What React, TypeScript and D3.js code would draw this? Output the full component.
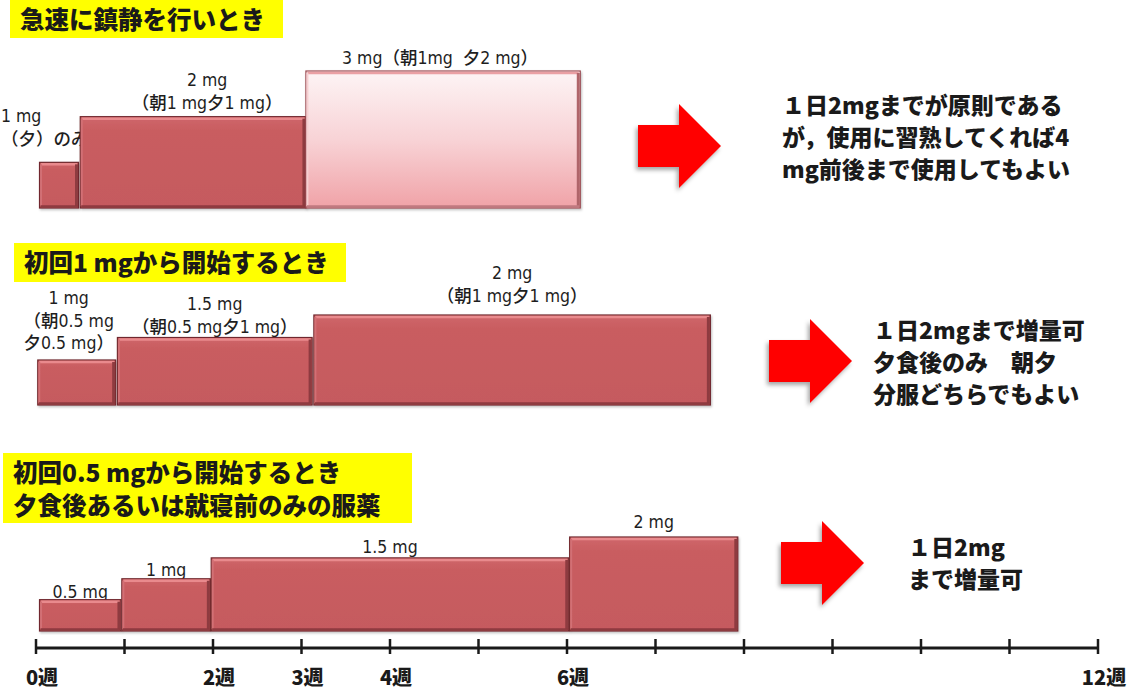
import React from "react";
import { scaleLinear } from "d3";

// axis
const weekTicks = [0, 1, 2, 3, 4, 5, 6, 7, 8, 9, 10, 11, 12];
const weekLabels = ["0週", "", "2週", "3週", "4週", "", "6週", "", "", "", "", "", "12週"];

// panel 1: 急速に鎮静を行いとき
const p1Start = [0.04, 0.5, 3.05];
const p1End = [0.48, 3.05, 6.15];
const p1Dose = [1, 2, 3];
const p1Labels = [["1 mg", "（夕）のみ）"], ["2 mg", "（朝1 mg夕1 mg）"], ["3 mg（朝1mg\u00a0\u00a0夕2 mg）"]];

// panel 2: 初回1 mgから開始するとき
const p2Start = [0.02, 0.92, 3.14];
const p2End = [0.9, 3.12, 7.62];
const p2Dose = [1, 1.5, 2];
const p2Labels = [["1 mg", "（朝0.5 mg", "夕0.5 mg）"], ["1.5 mg", "（朝0.5 mg夕1 mg）"], ["2 mg", "（朝1 mg夕1 mg）"]];

// panel 3: 初回0.5 mgから開始するとき
const p3Start = [0.04, 0.97, 1.98, 6.03];
const p3End = [0.96, 1.97, 6.02, 7.93];
const p3Dose = [0.5, 1, 1.5, 2];
const p3Labels = [["0.5 mg"], ["1 mg"], ["1.5 mg"], ["2 mg"]];

const titles1 = ["急速に鎮静を行いとき"];
const titles2 = ["初回1 mgから開始するとき"];
const titles3 = ["初回0.5 mgから開始するとき", "夕食後あるいは就寝前のみの服薬"];

const notes1 = ["１日2mgまでが原則である", "が，使用に習熟してくれば4", "mg前後まで使用してもよい"];
const notes2 = ["１日2mgまで増量可", "夕食後のみ　朝夕", "分服どちらでもよい"];
const notes3 = ["１日2mg", "まで増量可"];

const W = 1139;
const H = 692;
const x = scaleLinear().domain([0, 12]).range([36, 1098]);

const labelFont = "'DejaVu Sans Condensed', 'Noto Sans CJK JP', sans-serif";
const boldFont = "'Noto Sans CJK JP', 'Liberation Sans', sans-serif";

type Bar = { s: number; e: number; dose: number; lines: string[]; light?: boolean };

function Bars({ bars, base, h, labelDx, labelTop }: {
  bars: Bar[];
  base: number;
  h: (d: number) => number;
  labelDx: number[];
  labelTop: number[];
}) {
  return (
    <g>
      {/* labels first so bars may overlap them */}
      {bars.map((b, i) => {
        const cx = (x(b.s) + x(b.e)) / 2 + labelDx[i];
        const anchor = labelDx[i] < -20 ? "start" : "middle";
        const tx = anchor === "start" ? 1 : cx;
        return (
          <text key={"l" + i} x={tx} y={labelTop[i]} fontFamily={labelFont} fontSize={17.5}
            fill="#1e1e1e" textAnchor={anchor} fontWeight={500}>
            {b.lines.map((t, j) => (
              <tspan key={j} x={tx} dy={j === 0 ? 0 : 22.5}>{t}</tspan>
            ))}
          </text>
        );
      })}
      {bars.map((b, i) => {
        const x0 = x(b.s);
        const x1 = x(b.e);
        const w = x1 - x0;
        const hh = h(b.dose);
        const y0 = base - hh;
        return (
          <g key={i} filter="url(#barShadow)">
            <rect x={x0} y={y0} width={w} height={hh}
              fill={b.light ? "url(#pinkFill)" : "url(#redFill)"} stroke={b.light ? "#9a4c52" : "#70282d"} strokeWidth={1.2} />
            <line x1={x0 + 1.5} x2={x1 - 1.5} y1={y0 + 2} y2={y0 + 2}
              stroke={b.light ? "#eaa0a4" : "#e98a8d"} strokeWidth={2.5} />
            <line x1={x0 + 1.5} x2={x0 + 1.5} y1={y0 + 2} y2={base - 2}
              stroke={b.light ? "#f6cfd1" : "#d27074"} strokeWidth={2} />
            <line x1={x1 - 2} x2={x1 - 2} y1={y0 + 2} y2={base - 1}
              stroke={b.light ? "#b0656b" : "#8e3a3f"} strokeWidth={3} />
            <line x1={x0 + 1} x2={x1 - 1} y1={base - 1.5} y2={base - 1.5}
              stroke={b.light ? "#c07a80" : "#8e3a3f"} strokeWidth={2.5} />
          </g>
        );
      })}
    </g>
  );
}

function Arrow({ x0, yc }: { x0: number; yc: number }) {
  // shaft 41 long, 42 thick; head 42 long, 84 tall
  const sh = 21, hw = 42, sl = 41, hl = 42;
  const pts = [
    [x0, yc - sh], [x0 + sl, yc - sh], [x0 + sl, yc - hw], [x0 + sl + hl, yc],
    [x0 + sl, yc + hw], [x0 + sl, yc + sh], [x0, yc + sh],
  ].map((p) => p.join(",")).join(" ");
  return <polygon points={pts} fill="#ff0000" filter="url(#arrowShadow)" />;
}

function Title({ x0, y0, w, h, lines }: { x0: number; y0: number; w: number; h: number; lines: string[] }) {
  return (
    <g>
      <rect x={x0} y={y0} width={w} height={h} fill="#ffff00" />
      {lines.map((t, i) => (
        <text key={i} x={x0 + 10} y={y0 + 29 + i * 33} fontFamily={boldFont} fontWeight={900}
          fontSize={24.5} fill="#1a1a1a">{t}</text>
      ))}
    </g>
  );
}

function Notes({ x0, y0, lines }: { x0: number; y0: number; lines: string[] }) {
  return (
    <text x={x0} y={y0} fontFamily={boldFont} fontWeight={900} fontSize={23} fill="#1a1a1a">
      {lines.map((t, i) => (
        <tspan key={i} x={x0} dy={i === 0 ? 0 : 32}>{t}</tspan>
      ))}
    </text>
  );
}

export default function App() {
  const h1 = scaleLinear().domain([0, 3]).range([0, 137]);
  const h2 = scaleLinear().domain([0, 2]).range([0, 90]);
  const h3 = scaleLinear().domain([-0.25, 2]).range([0, 94]);

  const bars1: Bar[] = p1Dose.map((d, i) => ({ s: p1Start[i], e: p1End[i], dose: d, lines: p1Labels[i], light: i === 2 }));
  const bars2: Bar[] = p2Dose.map((d, i) => ({ s: p2Start[i], e: p2End[i], dose: d, lines: p2Labels[i] }));
  const bars3: Bar[] = p3Dose.map((d, i) => ({ s: p3Start[i], e: p3End[i], dose: d, lines: p3Labels[i] }));

  const axisY = 648;

  return (
    <div style={{ position: "absolute", left: 0, top: 0 }}>
      <svg width={W} height={H} viewBox={`0 0 ${W} ${H}`} style={{ display: "block", background: "#fff" }}>
        <defs>
          <linearGradient id="redFill" x1="0" x2="0" y1="0" y2="1">
            <stop offset="0%" stopColor="#cf676a" />
            <stop offset="15%" stopColor="#c95d61" />
            <stop offset="100%" stopColor="#c55a5e" />
          </linearGradient>
          <linearGradient id="pinkFill" x1="0" x2="0" y1="0" y2="1">
            <stop offset="0%" stopColor="#fdf4f5" />
            <stop offset="50%" stopColor="#f8d3d6" />
            <stop offset="100%" stopColor="#f0a2a7" />
          </linearGradient>
          <filter id="arrowShadow" x="-20%" y="-20%" width="150%" height="150%">
            <feDropShadow dx={-2} dy={3} stdDeviation={2} floodColor="#000" floodOpacity={0.35} />
          </filter>
          <filter id="barShadow" x="-5%" y="-5%" width="110%" height="115%">
            <feDropShadow dx={1} dy={1.5} stdDeviation={1} floodColor="#000" floodOpacity={0.25} />
          </filter>
        </defs>

        {/* panel 1 */}
        <Title x0={10} y0={0} w={273} h={38} lines={titles1} />
        <Bars bars={bars1} base={208} h={h1} labelDx={[-30, 14, -3]} labelTop={[122, 86, 64]} />
        <Arrow x0={638} yc={146} />
        <Notes x0={782} y0={114} lines={notes1} />

        {/* panel 2 */}
        <Title x0={14} y0={243} w={332} h={39} lines={titles2} />
        <Bars bars={bars2} base={405} h={h2} labelDx={[-8, 0, 0]} labelTop={[304, 310, 279]} />
        <Arrow x0={769} yc={361} />
        <Notes x0={873} y0={339} lines={notes2} />

        {/* panel 3 */}
        <Title x0={3} y0={453} w={409} h={70} lines={titles3} />
        <Bars bars={bars3} base={631} h={h3} labelDx={[0, 0, 0, 0]} labelTop={[598, 576, 553, 528]} />
        <Arrow x0={781} yc={563} />
        <Notes x0={908} y0={556} lines={notes3} />

        {/* time axis */}
        <line x1={x(0)} x2={x(12)} y1={axisY} y2={axisY} stroke="#1a1a1a" strokeWidth={3} />
        {weekTicks.map((t) => (
          <line key={t} x1={x(t)} x2={x(t)} y1={axisY - 9} y2={axisY + 6} stroke="#1a1a1a" strokeWidth={2.5} />
        ))}
        {weekTicks.map((t, i) => weekLabels[i] ? (
          <text key={"t" + t} x={x(t) + 6} y={685} textAnchor="middle" fontFamily={boldFont}
            fontWeight={900} fontSize={20} fill="#1a1a1a">{weekLabels[i]}</text>
        ) : null)}
      </svg>
    </div>
  );
}
